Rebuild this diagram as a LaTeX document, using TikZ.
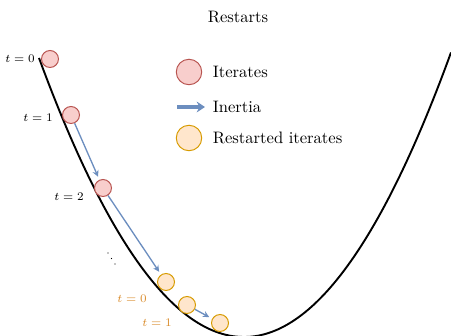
\documentclass[tikz,border=0pt]{standalone}
\usepackage{xcolor}
\definecolor{cIter}{HTML}{F8CECC}
\definecolor{cIterLine}{HTML}{B85450}
\definecolor{cRest}{HTML}{FFE6CC}
\definecolor{cRestLine}{HTML}{D79B00}
\definecolor{cInertia}{HTML}{6C8EBF}
\definecolor{cRestText}{HTML}{D98B2B}
\usepackage{tikz}
\usetikzlibrary{positioning,arrows.meta}
\tikzset{
  node-iter/.style={circle,draw=cIterLine,fill=cIter,line width=0.6pt,
    minimum size=3.6mm,inner sep=0pt},
  node-rest/.style={circle,draw=cRestLine,fill=cRest,line width=0.6pt,
    minimum size=3.6mm,inner sep=0pt},
  node-legend/.style={minimum size=5.4mm},
  node-tlabel/.style={font=\scriptsize,anchor=east,inner sep=0pt},
  arrow-inertia/.style={-{Stealth[length=3.8pt,width=3.8pt]},line width=0.8pt,
    draw=cInertia,shorten >=2pt},
  arrow-legend/.style={-{Stealth[length=5pt,width=6.5pt]},line width=2.2pt,draw=cInertia},
}

\begin{document}
\begin{tikzpicture}[x=0.0212cm,y=0.0212cm]
  \useasboundingbox (0,0) rectangle (451,336);
  \node (title) at (238,319) {Restarts};
  % objective
  \draw[line width=1.15pt] plot[domain=39:451,samples=120]
    (\x,{66.4*((\x-244)/100)*((\x-244)/100)-1});
  % iterates and restarted iterates
  \foreach \name/\x/\y in {it-0/50/277,it-1/71/221,it-2/103/148}
    \node[node-iter] (\name) at (\x,\y) {};
  \foreach \name/\x/\y in {rs-0/166/54,rs-1/187/31,rs-2/220/13}
    \node[node-rest] (\name) at (\x,\y) {};
  \foreach \a/\b in {it-1/it-2,it-2/rs-0,rs-1/rs-2}
    \draw[arrow-inertia] (\a) -- (\b);
  \node[node-tlabel] (lab-it-0) at (35,277) {$t=0$};
  \node[node-tlabel] (lab-it-1) at (53,218) {$t=1$};
  \node[node-tlabel] (lab-it-2) at (84,139) {$t=2$};
  \node[node-tlabel,cRestText] (lab-rs-0) at (147,37) {$t=0$};
  \node[node-tlabel,cRestText] (lab-rs-1) at (172,13) {$t=1$};
  % skipped steps
  \foreach \x/\y in {108/83,111.5/77.5,115/72}
    \fill (\x,\y) circle (0.45pt);
  % legend
  \node[node-iter,node-legend] (leg-iter) at (189,264) {};
  \node[anchor=west] (leg-iter-text) at (207,264) {Iterates};
  \coordinate (leg-arrow-a) at (177,229);
  \coordinate (leg-arrow-b) at (205,229);
  \draw[arrow-legend] (leg-arrow-a) -- (leg-arrow-b);
  \node[anchor=west] (leg-inertia-text) at (207,229) {Inertia};
  \node[node-rest,node-legend] (leg-rest) at (189,198) {};
  \node[anchor=west] (leg-rest-text) at (207,198) {Restarted iterates};
\end{tikzpicture}
\end{document}
